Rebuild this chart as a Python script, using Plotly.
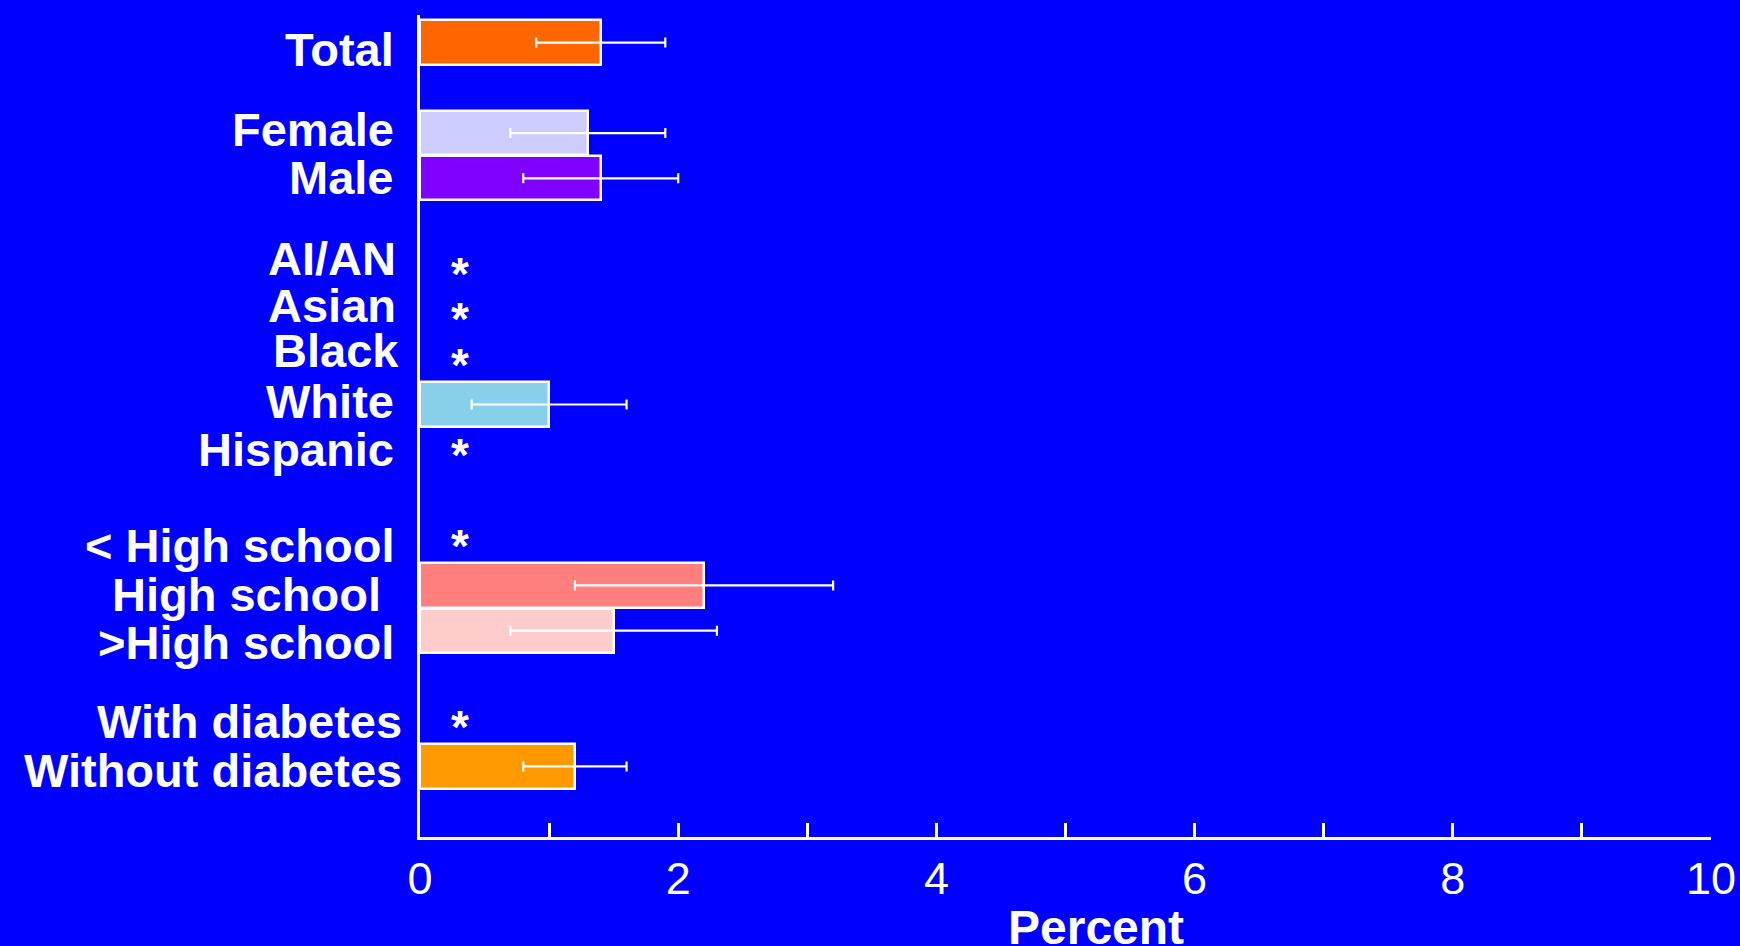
import plotly.graph_objects as go

# ---- data ----
groups = [
    ["Total"],
    ["Female", "Male"],
    ["AI/AN", "Asian", "Black", "White", "Hispanic"],
    ["< High school", "High school\u00a0", ">High school"],
    ["With diabetes", "Without diabetes"],
]
values = [1.4, 1.3, 1.4, None, None, None, 1.0, None, None, 2.2, 1.5, None, 1.2]
ci_low = [0.9, 0.7, 0.8, None, None, None, 0.4, None, None, 1.2, 0.7, None, 0.8]
ci_high = [1.9, 1.9, 2.0, None, None, None, 1.6, None, None, 3.2, 2.3, None, 1.6]
x_tick_values = [0, 2, 4, 6, 8, 10]

# ---- styles ----
bar_colors = ["#FF6600", "#CCCCFF", "#8000FF", "#0000FF", "#0000FF", "#0000FF",
              "#88D0EA", "#0000FF", "#0000FF", "#FF7F7F", "#FFCCCC", "#0000FF", "#FF9900"]
# small vertical / horizontal label nudges (slot units / px) to mimic the original slide
label_dy = [0.16, -0.07, -0.02, -0.23, -0.18, -0.19, -0.07, 0.0, 0.12, 0.19, 0.25, 0.0, 0.08]
label_dx = [0, 0, 0, 2, 2, 5, 0, 0, 0, 0, 0, 8, 8]
STAR_DY = 0.22
BG = "#0000FF"
FONT = "Liberation Sans, Arial, sans-serif"

# slot positions from group structure (one empty slot between groups)
categories, slots = [], []
pos = 0
for g in groups:
    for c in g:
        categories.append(c)
        slots.append(pos)
        pos += 1
    pos += 1

bar_y = [s for s, v in zip(slots, values) if v is not None]
bar_x = [v for v in values if v is not None]
err_plus = [h - v for v, h in zip(values, ci_high) if v is not None]
err_minus = [v - l for v, l in zip(values, ci_low) if v is not None]
cols = [c for c, v in zip(bar_colors, values) if v is not None]

fig = go.Figure()
fig.add_trace(go.Bar(
    x=bar_x, y=bar_y, orientation="h", width=0.98,
    marker=dict(color=cols, line=dict(color="white", width=2.5)),
    error_x=dict(type="data", symmetric=False, array=err_plus, arrayminus=err_minus,
                 color="white", thickness=2.2, width=5),
    showlegend=False, hoverinfo="skip",
))

star_y = [s + STAR_DY for s, v in zip(slots, values) if v is None]
fig.add_trace(go.Scatter(
    x=[0.31] * len(star_y), y=star_y, mode="text", text=["*"] * len(star_y),
    textposition="middle center",
    textfont=dict(family=FONT, size=46, color="white", weight="bold"),
    showlegend=False, hoverinfo="skip",
))

annotations = []
for c, s, dy, dx in zip(categories, slots, label_dy, label_dx):
    annotations.append(dict(
        text=c.replace("<", "&lt;"), xref="paper", yref="y", x=0, y=s + dy,
        xanchor="right", yanchor="middle", xshift=-24 + dx, showarrow=False,
        font=dict(family=FONT, size=47, color="white", weight="bold"),
    ))
annotations.append(dict(
    text="Percent", xref="paper", yref="paper", x=0.524, y=-0.1095,
    xanchor="center", yanchor="middle", showarrow=False,
    font=dict(family=FONT, size=48, color="white", weight="bold"),
))

fig.update_layout(
    width=1740, height=946,
    paper_bgcolor=BG, plot_bgcolor=BG,
    margin=dict(l=420, r=29, t=15, b=109),
    font=dict(family=FONT, color="white"),
    bargap=0,
    xaxis=dict(
        range=[0, 10], tickvals=x_tick_values, ticktext=[str(v) for v in x_tick_values],
        ticks="inside", ticklen=14, tickwidth=2.5, tickcolor="white",
        minor=dict(dtick=1, ticks="inside", ticklen=14, tickwidth=2.5, tickcolor="white"),
        showline=True, linecolor="white", linewidth=2.5,
        showgrid=False, zeroline=False, automargin=False,
        tickfont=dict(family=FONT, size=45, color="white"),
    ),
    yaxis=dict(
        range=[17.56, -0.61], showticklabels=False,
        showline=True, linecolor="white", linewidth=2.5,
        showgrid=False, zeroline=False, ticks="", automargin=False,
    ),
    annotations=annotations,
)

fig.write_html("out.html", config={"displayModeBar": False},
               post_script="document.body.style.margin='0';document.body.style.overflow='hidden';")
